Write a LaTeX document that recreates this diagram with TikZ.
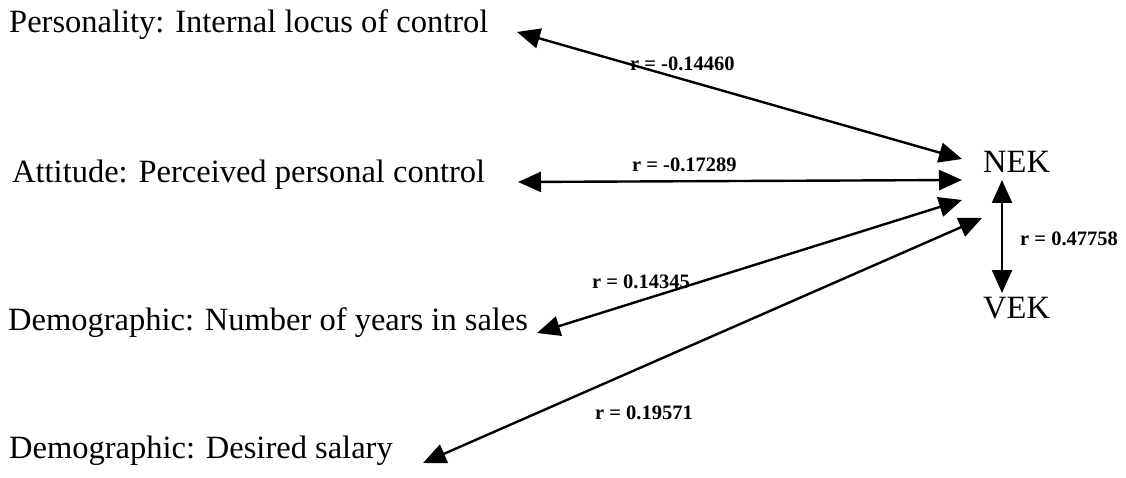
\documentclass[tikz,border=0pt]{standalone}
\usepackage{fontspec}
\setmainfont{Liberation Serif}
\usetikzlibrary{arrows.meta}
\begin{document}
\begin{tikzpicture}[x=1pt,y=-1pt,
  maintext/.style={anchor=base west,inner sep=0pt,font=\fontsize{32.5}{35}\selectfont},
  rlabel/.style={anchor=base west,inner sep=0pt,font=\fontsize{20.5}{22}\selectfont\bfseries},
  conn/.style={line width=2.4pt,{Triangle[length=23pt,width=20pt]}-{Triangle[length=23pt,width=20pt]}}]
\useasboundingbox (0,0) rectangle (1126,478);
\node[maintext] (p1) at (9,33) {Personality: Internal locus of control};
\node[maintext] (p2) at (12,183) {Attitude: Perceived personal control};
\node[maintext] (p3) at (8,330) {Demographic: Number of years in sales};
\node[maintext] (p4) at (9,458) {Demographic: Desired salary};
\node[maintext] (nek) at (983,173) {NEK};
\node[maintext] (vek) at (983,318) {VEK};
\coordinate (a1) at (517,32);
\coordinate (b1) at (962,159);
\coordinate (a2) at (518,182);
\coordinate (b2) at (962,180);
\coordinate (a3) at (537,333);
\coordinate (b3) at (962,200);
\coordinate (a4) at (423,463);
\coordinate (b4) at (982,218);
\coordinate (nv1) at (1002,180);
\coordinate (nv2) at (1002,293);
\draw[conn] (a1) -- (b1);
\draw[conn] (a2) -- (b2);
\draw[conn] (a3) -- (b3);
\draw[conn] (a4) -- (b4);
\draw[conn] (nv1) -- (nv2);
\node[rlabel] (l1) at (630,71) {r = -0.14460};
\node[rlabel] (l2) at (632,172) {r = -0.17289};
\node[rlabel] (l3) at (592,288) {r = 0.14345};
\node[rlabel] (l4) at (595,419) {r = 0.19571};
\node[rlabel] (l5) at (1020,246) {r = 0.47758};
\end{tikzpicture}
\end{document}
